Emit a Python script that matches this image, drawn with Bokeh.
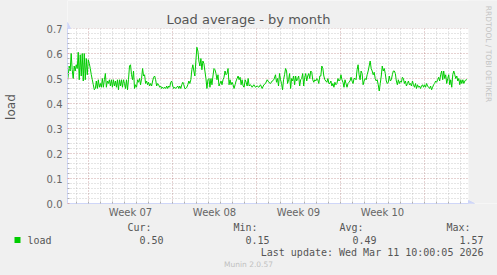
import numpy as np
from bokeh.plotting import figure
from bokeh.layouts import column, row
from bokeh.models import (FixedTicker, Range1d, Label, Arrow, NormalHead,
                          BoxAnnotation, PrintfTickFormatter, ColumnDataSource)
from bokeh.embed import file_html
from bokeh.resources import INLINE

# ---------------- data ----------------
TITLE = "Load average - by month"
Y_LABEL = "load"
WEEK_LABELS = ["Week 07", "Week 08", "Week 09", "Week 10"]
WEEK_STARTS = [0, 7, 14, 21, 28]          # days since Mon 9 Feb 2026
Y_TICKS = [0.0, 0.1, 0.2, 0.3, 0.4, 0.5, 0.6, 0.7]
STATS_HEAD = ["Cur:", "Min:", "Avg:", "Max:"]
STATS_VAL = ["0.50", "0.15", "0.49", "1.57"]
SERIES_NAME = "load"
LAST_UPDATE = "Last update: Wed Mar 11 10:00:05 2026"
FOOTER = "Munin 2.0.57"
WATERMARK = "RRDTOOL / TOBI OETIKER"

SEG_A = (-1.778, 13.472)
SEG_B1 = (13.5, 15.583)
SEG_B2 = (15.667, 31.53)

LOAD_A = [0.48, 0.51, 0.55, 0.53, 0.60, 0.535, 0.50, 0.55, 0.53, 0.555, 0.54, 0.605, 0.495,
          0.595, 0.51, 0.60, 0.49, 0.60, 0.495, 0.58, 0.515, 0.575, 0.56, 0.54, 0.515, 0.495,
          0.475, 0.455, 0.46, 0.49, 0.46, 0.495, 0.465, 0.48, 0.465, 0.50, 0.465, 0.495, 0.52,
          0.465, 0.49, 0.48, 0.495, 0.47, 0.495, 0.465, 0.495, 0.47, 0.49, 0.465, 0.495, 0.455,
          0.495, 0.47, 0.495, 0.465, 0.495, 0.48, 0.46, 0.495, 0.455, 0.495, 0.55, 0.555, 0.515,
          0.495, 0.53, 0.46, 0.475, 0.465, 0.495, 0.485, 0.50, 0.475, 0.50, 0.54, 0.51, 0.515,
          0.48, 0.49, 0.475, 0.485, 0.47, 0.48, 0.47, 0.49, 0.505, 0.51, 0.495, 0.47, 0.48,
          0.475, 0.465, 0.47, 0.46, 0.465, 0.46, 0.465, 0.46, 0.47, 0.46, 0.47, 0.465, 0.485,
          0.49, 0.47, 0.46, 0.465, 0.46, 0.465, 0.47, 0.46, 0.47, 0.46, 0.475, 0.485, 0.475,
          0.46, 0.46, 0.465, 0.475, 0.49, 0.48, 0.495, 0.535, 0.555, 0.53, 0.51, 0.57, 0.625,
          0.61, 0.57, 0.55, 0.58, 0.535, 0.57, 0.56, 0.53, 0.50, 0.46, 0.495, 0.50, 0.465,
          0.50, 0.475, 0.51, 0.54, 0.535, 0.52, 0.495, 0.515, 0.47, 0.48, 0.49, 0.475, 0.495,
          0.505, 0.53, 0.515, 0.52, 0.54, 0.475, 0.495, 0.475, 0.485, 0.475, 0.46, 0.475, 0.49,
          0.50, 0.51, 0.495, 0.505, 0.475, 0.495, 0.47, 0.465, 0.495, 0.485, 0.47, 0.50, 0.47,
          0.475]
LOAD_B1 = [0.475, 0.465, 0.475, 0.465, 0.47, 0.465, 0.475, 0.46, 0.475, 0.48, 0.495, 0.485,
           0.48, 0.49, 0.495, 0.515]
LOAD_B2 = [0.485, 0.50, 0.47, 0.52, 0.495, 0.48, 0.455, 0.495, 0.515, 0.54, 0.53, 0.48, 0.495,
           0.52, 0.46, 0.50, 0.49, 0.51, 0.475, 0.51, 0.49, 0.50, 0.51, 0.47, 0.495, 0.50, 0.52,
           0.47, 0.505, 0.52, 0.49, 0.51, 0.52, 0.50, 0.53, 0.525, 0.495, 0.485, 0.495, 0.49,
           0.50, 0.495, 0.48, 0.51, 0.51, 0.55, 0.54, 0.51, 0.495, 0.49, 0.485, 0.50, 0.48, 0.48,
           0.49, 0.47, 0.48, 0.465, 0.485, 0.475, 0.48, 0.50, 0.49, 0.495, 0.515, 0.495, 0.485,
           0.465, 0.495, 0.48, 0.465, 0.48, 0.485, 0.49, 0.505, 0.49, 0.48, 0.50, 0.50, 0.495,
           0.535, 0.555, 0.515, 0.495, 0.53, 0.52, 0.475, 0.49, 0.50, 0.495, 0.515, 0.53, 0.55,
           0.57, 0.54, 0.53, 0.515, 0.525, 0.50, 0.49, 0.495, 0.475, 0.45, 0.48, 0.51, 0.55,
           0.53, 0.54, 0.52, 0.49, 0.48, 0.485, 0.51, 0.49, 0.495, 0.515, 0.53, 0.53, 0.52, 0.49,
           0.475, 0.495, 0.48, 0.49, 0.485, 0.505, 0.50, 0.48, 0.49, 0.47, 0.48, 0.49, 0.475,
           0.48, 0.47, 0.49, 0.475, 0.465, 0.48, 0.46, 0.475, 0.465, 0.47, 0.46, 0.47, 0.475,
           0.465, 0.475, 0.465, 0.48, 0.47, 0.465, 0.46, 0.47, 0.455, 0.465, 0.475, 0.48, 0.49,
           0.485, 0.495, 0.505, 0.49, 0.515, 0.53, 0.495, 0.53, 0.50, 0.515, 0.48, 0.50, 0.515,
           0.475, 0.495, 0.465, 0.515, 0.53, 0.515, 0.50, 0.51, 0.49, 0.50, 0.475, 0.495, 0.48,
           0.495, 0.48, 0.49, 0.495, 0.495]

# ---------------- layout ----------------
W, H = 497, 275
H_MAIN = 220
H_LEG = H - H_MAIN
W_SIDE = 30                           # left strip holding the y label
FL, FR, FB = 67, 468, 203            # plot-area edges in pixels (canvas top is 28)
PX_PER_DAY = 12.0
Y_PX_PER_UNIT = 250.0
X0 = -1.75
X1 = X0 + (FR - FL) / PX_PER_DAY     # right end of data area
XE = X0 + (W - FL) / PX_PER_DAY      # right end of frame (image edge)
Y0, Y1 = 0.0, 0.7
YE = FB / Y_PX_PER_UNIT              # top of frame (image edge)

def dx(px):
    return X0 + (px - FL) / PX_PER_DAY

def dy(py):
    return (FB - py) / Y_PX_PER_UNIT

FONT_COL = "#666666"
TEXT_COL = "#555555"
AXIS_COL = "#CFD6F8"
BACK = "#F0F0F0"

p = figure(width=W - W_SIDE, height=H_MAIN, output_backend="svg", toolbar_location=None,
           x_range=Range1d(X0, XE), y_range=Range1d(Y0, YE),
           min_border_left=FL - W_SIDE, min_border_right=0,
           min_border_top=0, min_border_bottom=H_MAIN - FB,
           background_fill_color="#FFFFFF", border_fill_color=BACK,
           outline_line_color=None)

t = np.concatenate([np.linspace(SEG_A[0], SEG_A[1], len(LOAD_A)),
                    np.linspace(SEG_B1[0], SEG_B1[1], len(LOAD_B1)),
                    np.linspace(SEG_B2[0], SEG_B2[1], len(LOAD_B2))])
v = LOAD_A + LOAD_B1 + LOAD_B2
src = ColumnDataSource(dict(t=t, v=v))
p.line("t", "v", source=src, line_color="#00CC00", line_width=1)

days = list(range(int(np.ceil(X0)), int(np.floor(X1)) + 1))
minor_days = [d for d in days if d not in WEEK_STARTS]
label_pos = [(WEEK_STARTS[i] + WEEK_STARTS[i + 1]) / 2 for i in range(len(WEEK_LABELS))]
y_minor = [round(i * 0.02, 2) for i in range(0, 36) if i % 5 != 0]

xa = p.xaxis[0]
xa.ticker = FixedTicker(ticks=label_pos, minor_ticks=days)
xa.major_label_overrides = {lp: lab for lp, lab in zip(label_pos, WEEK_LABELS)}
xa.bounds = (X0, X1)
xa.major_tick_in = 0
xa.major_tick_out = 0
xa.minor_tick_in = 2
xa.minor_tick_out = 0
xa.minor_tick_line_color = "#B0B0B0"
xa.axis_line_color = AXIS_COL
xa.major_label_text_font = "DejaVu Sans"
xa.major_label_text_font_size = "10px"
xa.major_label_text_color = FONT_COL
xa.major_label_standoff = 3

ya = p.yaxis[0]
ya.ticker = FixedTicker(ticks=Y_TICKS, minor_ticks=y_minor)
ya.formatter = PrintfTickFormatter(format="%.1f")
ya.bounds = (Y0, Y1)
ya.major_tick_in = 2
ya.major_tick_out = 0
ya.major_tick_line_color = "#D8A8A8"
ya.minor_tick_in = 2
ya.minor_tick_out = 0
ya.minor_tick_line_color = "#B0B0B0"
ya.axis_line_color = AXIS_COL
ya.major_label_text_font = "DejaVu Sans"
ya.major_label_text_font_size = "10px"
ya.major_label_text_color = FONT_COL
ya.major_label_standoff = 5

p.xgrid.ticker = FixedTicker(ticks=WEEK_STARTS, minor_ticks=minor_days)
p.xgrid.grid_line_color = "#821E1E"
p.xgrid.grid_line_alpha = 0.4
p.xgrid.grid_line_dash = "1 2"
p.xgrid.minor_grid_line_color = "#8C8C8C"
p.xgrid.minor_grid_line_alpha = 0.45
p.xgrid.minor_grid_line_dash = "1 2"

p.ygrid.ticker = FixedTicker(ticks=Y_TICKS, minor_ticks=y_minor)
p.ygrid.grid_line_color = "#821E1E"
p.ygrid.grid_line_alpha = 0.4
p.ygrid.grid_line_dash = "1 2"
p.ygrid.minor_grid_line_color = "#8C8C8C"
p.ygrid.minor_grid_line_alpha = 0.45
p.ygrid.minor_grid_line_dash = "1 2"

# mask the frame outside the drawing canvas (above 0.7 and right of the last day)
p.add_layout(BoxAnnotation(bottom=Y1, fill_color=BACK, fill_alpha=1.0, line_color=None))
p.add_layout(BoxAnnotation(left=X1, fill_color=BACK, fill_alpha=1.0, line_color=None))

# axis arrows
p.add_layout(Arrow(end=NormalHead(size=6, fill_color=AXIS_COL, line_color=AXIS_COL),
                   x_start=X0, y_start=Y1, x_end=X0, y_end=dy(FB - 175 - 6),
                   line_color=AXIS_COL, line_width=1))
p.add_layout(Arrow(end=NormalHead(size=6, fill_color=AXIS_COL, line_color=AXIS_COL),
                   x_start=X1, y_start=Y0, x_end=dx(FR + 6), y_end=Y0,
                   line_color=AXIS_COL, line_width=1))

p.add_layout(Label(x=dx(248), y=dy(19), text=TITLE, text_font="DejaVu Sans",
                   text_font_size="13px", text_color=TEXT_COL, text_align="center",
                   text_baseline="middle"))
p.add_layout(Label(x=dx(487.5), y=dy(53.5), text=WATERMARK, text_font="DejaVu Sans",
                   text_font_size="7.5px", text_color="#C4C4C4", text_align="center",
                   text_baseline="middle", angle=-np.pi / 2))

# ---------------- left strip (y label) ----------------
s = figure(width=W_SIDE, height=H_MAIN, output_backend="svg", toolbar_location=None,
           x_range=Range1d(0, W_SIDE), y_range=Range1d(H_MAIN, 0),
           x_axis_type=None, y_axis_type=None,
           min_border_left=0, min_border_right=0, min_border_top=0, min_border_bottom=0,
           background_fill_color=BACK, border_fill_color=BACK, outline_line_color=None)
s.xgrid.visible = False
s.ygrid.visible = False
s.add_layout(Label(x=10, y=(FB + 28) / 2, text=Y_LABEL, text_font="DejaVu Sans",
                   text_font_size="12px", text_color=TEXT_COL, text_align="center",
                   text_baseline="middle", angle=np.pi / 2))

# ---------------- legend strip ----------------
q = figure(width=W, height=H_LEG, output_backend="svg", toolbar_location=None,
           x_range=Range1d(0, W), y_range=Range1d(H_LEG, 0),
           x_axis_type=None, y_axis_type=None,
           min_border_left=0, min_border_right=0, min_border_top=0, min_border_bottom=0,
           background_fill_color=BACK, border_fill_color=BACK, outline_line_color=None)
q.xgrid.visible = False
q.ygrid.visible = False

MONO = "DejaVu Sans Mono"

def lab(px, py, text, size="10px", color=TEXT_COL, font=MONO, align="left"):
    q.add_layout(Label(x=px, y=py - H_MAIN, text=text, text_font=font,
                       text_font_size=size, text_color=color,
                       text_align=align, text_baseline="middle"))

q.add_layout(BoxAnnotation(left=14, right=20, top=236.5 - H_MAIN, bottom=242.5 - H_MAIN,
                           fill_color="#00CC00", fill_alpha=1.0, line_color=None))
lab(27, 239.5, SERIES_NAME)
head_right = [151, 257, 363, 470]
val_right = [163, 269, 376, 483]
for hx, vx, hd, vl in zip(head_right, val_right, STATS_HEAD, STATS_VAL):
    lab(hx, 227, hd, align="right")
    lab(vx, 239.5, vl, align="right")
lab(483, 252, LAST_UPDATE, align="right")
lab(248, 264, FOOTER, size="7.5px", color="#C0C0C0", font="DejaVu Sans", align="center")

top = row(s, p, spacing=0, styles={"background-color": BACK})
layout = column(top, q, spacing=0, styles={"background-color": BACK})
open("out.html", "w").write(file_html(layout, INLINE))
